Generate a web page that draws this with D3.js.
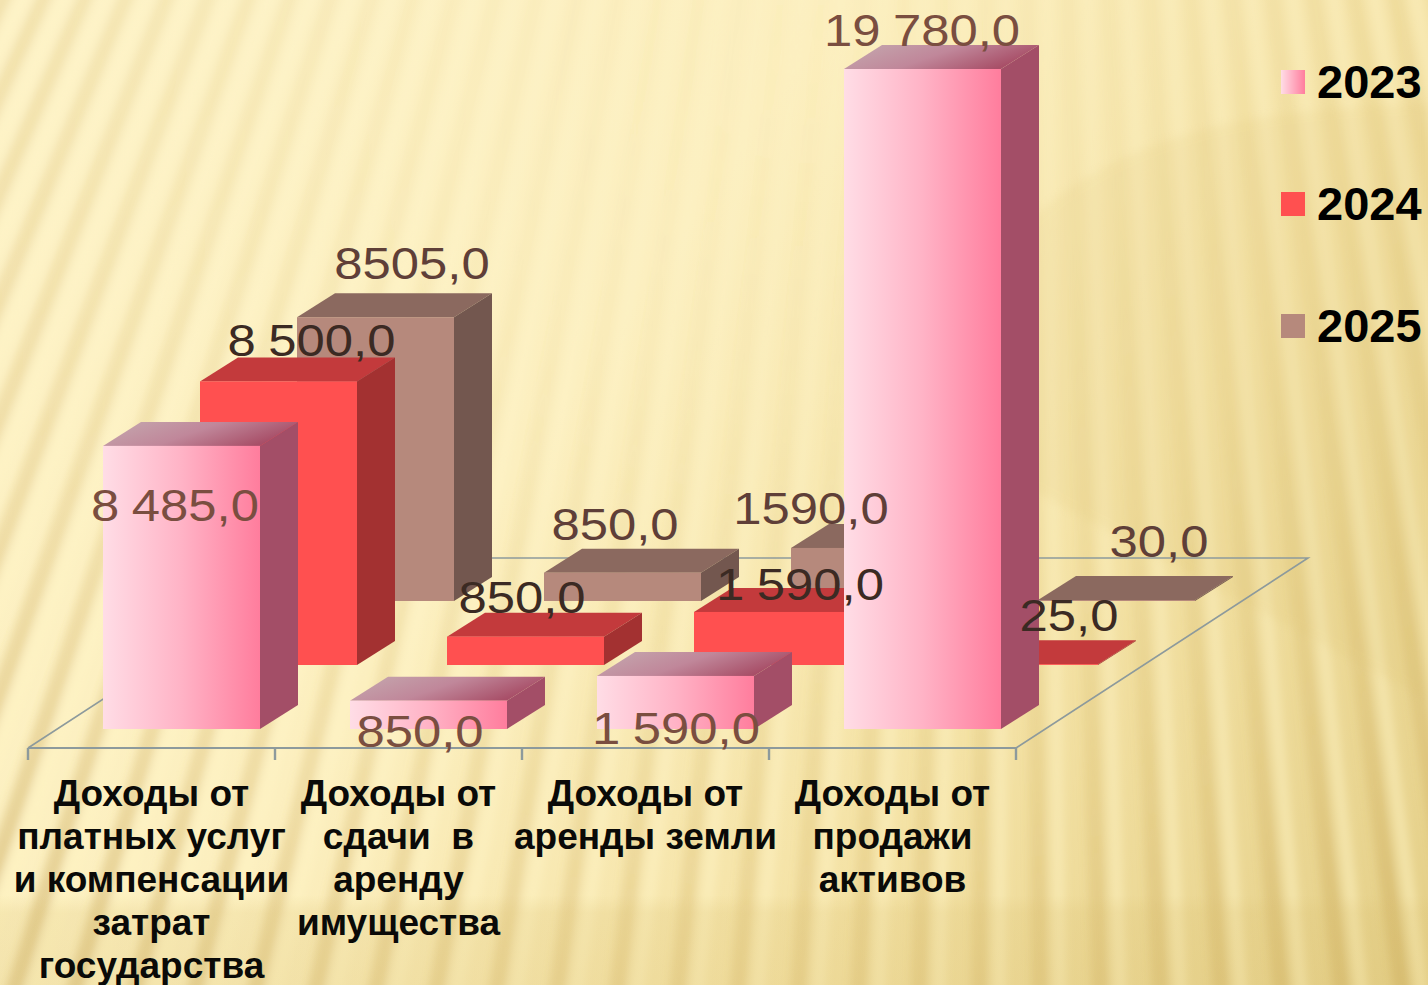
<!DOCTYPE html>
<html><head><meta charset="utf-8">
<script src="https://cdn.jsdelivr.net/npm/d3@7"></script>
<style>html,body{margin:0;padding:0;background:#f5e4a8;overflow:hidden}svg{display:block}</style>
</head><body><div id="c"></div>
<script>
const categories = [
  ["Доходы от","платных услуг","и компенсации","затрат","государства"],
  ["Доходы от","сдачи  в","аренду","имущества"],
  ["Доходы от","аренды земли"],
  ["Доходы от","продажи","активов"]
];
const seriesNames = ["2025","2024","2023"];
const values2023 = [8485, 850, 1590, 19780];
const values2024 = [8500, 850, 1590, 25];
const values2025 = [8505, 850, 1590, 30];
const labels2023 = ["8 485,0","850,0","1 590,0","19 780,0"];
const labels2024 = ["8 500,0","850,0","1 590,0","25,0"];
const labels2025 = ["8505,0","850,0","1590,0","30,0"];

const W = 1428, H = 985;
const svg = d3.select("#c").append("svg").attr("width",W).attr("height",H).attr("viewBox",[0,0,W,H]);
const defs = svg.append("defs");
function lin(id,x1,y1,x2,y2,stops,user){
  const g=defs.append("linearGradient").attr("id",id).attr("x1",x1).attr("y1",y1).attr("x2",x2).attr("y2",y2);
  if(user) g.attr("gradientUnits","userSpaceOnUse");
  stops.forEach(s=>g.append("stop").attr("offset",s[0]).attr("stop-color",s[1]).attr("stop-opacity",s[2]===undefined?1:s[2]));
}
function rad(id,cx,cy,r,stops){
  const g=defs.append("radialGradient").attr("id",id).attr("gradientUnits","userSpaceOnUse").attr("cx",cx).attr("cy",cy).attr("r",r);
  stops.forEach(s=>g.append("stop").attr("offset",s[0]).attr("stop-color",s[1]).attr("stop-opacity",s[2]));
}
lin("bg",0,0,W,H,[[0,"#fdf2c6"],[0.4,"#fcefbf"],[0.7,"#f4e2a5"],[1,"#e4cf88"]],true);
rad("lightS",800,60,1150,[[0,"#fff8d8",0.05],[0.35,"#fff7d2",0.22],[0.7,"#fff5c8",0.42],[1,"#fff3c0",0.55]]);
rad("darkS",800,60,1150,[[0,"#c9a850",0.015],[0.3,"#c9a850",0.05],[0.55,"#c9a850",0.13],[0.8,"#c49e48",0.24],[1,"#b8923c",0.34]]);
lin("front23",0,0,1,0,[[0,"#ffdde6"],[0.5,"#ffb3c6"],[1,"#ff7d9d"]]);
lin("top23",0,0,1,0.35,[[0,"#c5aab0"],[0.55,"#c0879a"],[1,"#a84f68"]]);
lin("bandFade",0,0,0,1,[[0,"#d9bf70",0],[0.2,"#d9bf70",0.2],[1,"#d9bf70",0.24]]);
defs.append("filter").attr("id","blur").attr("x","-5%").attr("y","-5%").attr("width","110%").attr("height","110%")
  .append("feGaussianBlur").attr("stdDeviation",4.5);

// background
const bg = svg.append("g");
bg.append("rect").attr("width",W).attr("height",H).attr("fill","url(#bg)");
const stripes = bg.append("g").attr("filter","url(#blur)");
const apexX = 1000, spread = 2100, bottom = H+30;
d3.range(-900, 1800, 41).forEach(x0=>{
  const xAt = y => apexX + (x0-apexX)*(1+y/spread);
  stripes.append("path").attr("d",`M${xAt(-30)},-30L${xAt(bottom)},${bottom}`)
    .attr("stroke","url(#darkS)").attr("stroke-width",17).attr("fill","none");
  stripes.append("path").attr("d",`M${xAt(-30)+20},-30L${xAt(bottom)+20},${bottom}`)
    .attr("stroke","url(#lightS)").attr("stroke-width",13).attr("fill","none");
});
bg.append("path").attr("d","M1428,104C1300,108 1190,120 1100,170C1000,225 960,300 900,420L1428,700Z")
  .attr("fill","#d9bd6c").attr("opacity",0.12).attr("filter","url(#blur)");
bg.append("rect").attr("y",895).attr("width",W).attr("height",H-895).attr("fill","url(#bandFade)");

// scales
const xBand = d3.scaleBand().domain(d3.range(categories.length)).range([28,1016]);
const ySeries = d3.scalePoint().domain(seriesNames).range([601,729]);
const xSeries = d3.scalePoint().domain(seriesNames).range([194,0]);
const h = d3.scaleLinear().domain([0,19780]).range([0,660]);
const barW = 157, depthX = 38, depthY = 24, inset = 75;
const floorDX = 292, floorDY = 190, floorY = 748;
const colors = {
  "2023":{front:"url(#front23)",side:"#a34e67",top:"url(#top23)",text:"#7a4e40"},
  "2024":{front:"#ff5050",side:"#a33131",top:"#c33a3c",text:"#3b2a23"},
  "2025":{front:"#b6897c",side:"#73574f",top:"#8b695f",text:"#5f3f38"}
};
const seriesValues = {"2023":values2023,"2024":values2024,"2025":values2025};
const seriesLabels = {"2023":labels2023,"2024":labels2024,"2025":labels2025};
// label placement relative to the bar's front-top-left corner
const labelOffset = {
  "2023":[[72,75],[70,46],[79,68],[78,-23]],
  "2024":[[111.5,-25],[75,-24],[106,-12],[128,-33]],
  "2025":[[115,-38],[71,-33],[20,-24],[121,-43]]
};

// floor
const x0 = xBand.range()[0], x1 = xBand.range()[1];
const floor = svg.append("g").attr("fill","none").attr("stroke","#8d9a9c");
floor.append("path").attr("stroke-width",1.6)
  .attr("d",`M${x0},${floorY}L${x0+floorDX},${floorY-floorDY}L${x1+floorDX},${floorY-floorDY}L${x1},${floorY}`);
floor.append("path").attr("stroke-width",2).attr("d",`M${x0},${floorY}L${x1},${floorY}`);
d3.range(categories.length+1).forEach(i=>{
  const x = x0 + xBand.step()*i;
  floor.append("path").attr("stroke-width",2.4).attr("d",`M${x},${floorY}V${floorY+12}`);
});

// bars
const bars = svg.append("g");
const line = d3.line();
seriesNames.forEach(s=>{
  const c = colors[s];
  seriesValues[s].forEach((v,i)=>{
    const x = xBand(i)+inset+xSeries(s), y0 = ySeries(s), y = y0-h(v);
    bars.append("path").attr("fill",c.top)
      .attr("d",line([[x,y],[x+depthX,y-depthY],[x+barW+depthX,y-depthY],[x+barW,y]])+"Z");
    bars.append("path").attr("fill",c.side)
      .attr("d",line([[x+barW,y],[x+barW+depthX,y-depthY],[x+barW+depthX,y0-depthY],[x+barW,y0]])+"Z");
    bars.append("rect").attr("x",x).attr("y",y).attr("width",barW).attr("height",y0-y).attr("fill",c.front);
  });
});

// data labels
const dl = svg.append("g").attr("font-family","'Liberation Sans',Arial,sans-serif").attr("font-size",44)
  .attr("text-anchor","middle").style("word-spacing","-1.5px");
["2023","2024","2025"].forEach(s=>{
  seriesValues[s].forEach((v,i)=>{
    const x = xBand(i)+inset+xSeries(s), y = ySeries(s)-h(v), o = labelOffset[s][i];
    dl.append("text").attr("transform",`translate(${x+o[0]},${y+o[1]}) scale(1.155,1)`)
      .attr("fill",colors[s].text).text(seriesLabels[s][i]);
  });
});

// category labels
const cl = svg.append("g").attr("font-family","'Liberation Sans',Arial,sans-serif").attr("font-weight","bold")
  .attr("font-size",37).attr("text-anchor","middle").attr("fill","#0a0a08");
categories.forEach((lines,i)=>{
  lines.forEach((t,j)=>{
    cl.append("text").style("white-space","pre")
      .attr("x",xBand(i)+xBand.bandwidth()/2).attr("y",806+42.9*j).text(t);
  });
});

// legend
const legendOrder = ["2023","2024","2025"];
const lg = svg.append("g").attr("font-family","'Liberation Sans',Arial,sans-serif").attr("font-weight","bold").attr("font-size",47).attr("fill","#000");
const yLegend = d3.scalePoint().domain(legendOrder).range([70,314]);
lin("leg23",0,0,1,0,[[0,"#ffdde6"],[1,"#ff7d9d"]]);
legendOrder.forEach(s=>{
  lg.append("rect").attr("x",1281).attr("y",yLegend(s)).attr("width",24).attr("height",24)
    .attr("fill",s==="2023"?"url(#leg23)":colors[s].front);
  lg.append("text").attr("x",1317).attr("y",yLegend(s)+28).text(s);
});
</script></body></html>
